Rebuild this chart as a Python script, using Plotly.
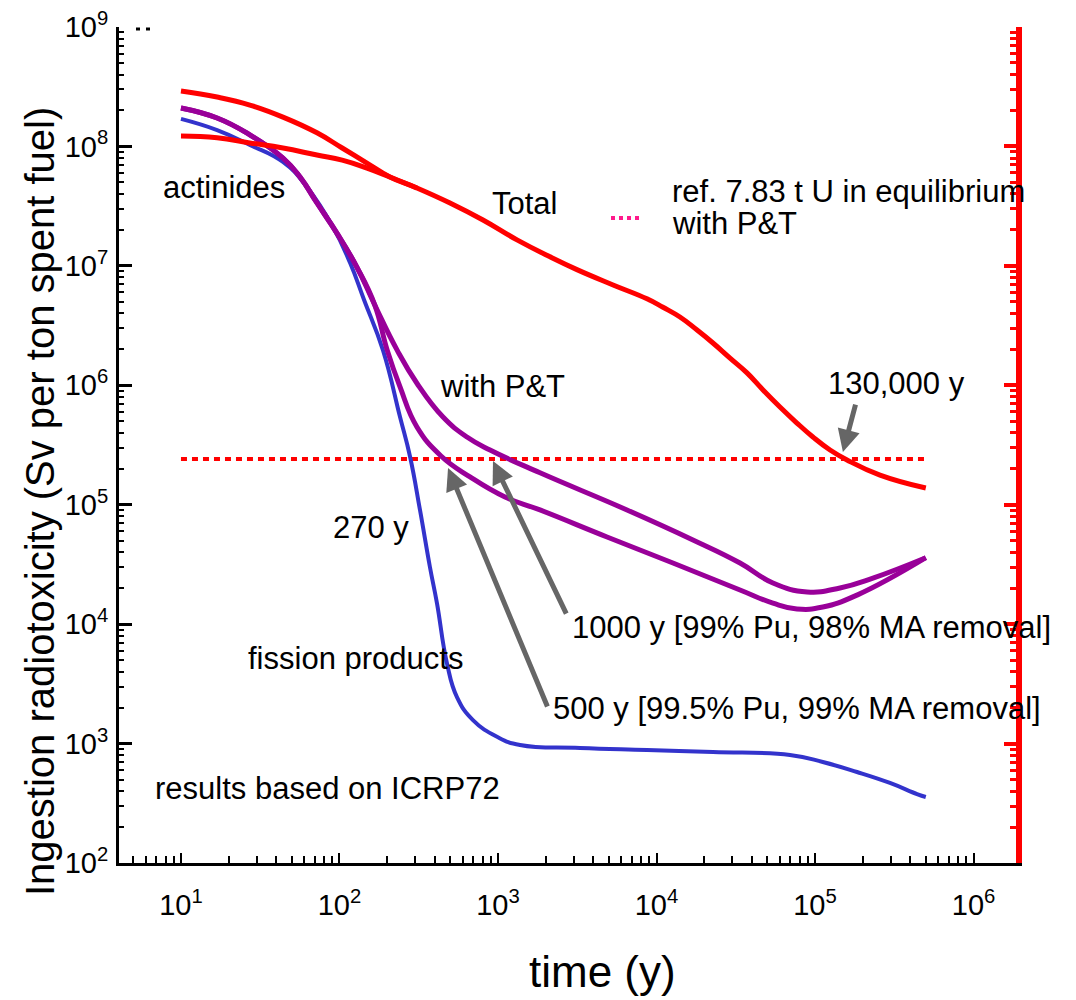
import plotly.graph_objects as go
import math

# ---------------- data (time in years, ingestion radiotoxicity in Sv / t spent fuel) -------------
total_t = [10, 16.9, 27.2, 44.0, 72.1, 104, 149, 208, 308, 498, 804, 1318, 2128, 3148,
           5321, 8710, 10990, 14060, 18030, 22700, 29100, 37240, 46990, 60100, 76900,
           97000, 124400, 159200, 257000, 500000]
total_v = [2.91e8, 2.59e8, 2.22e8, 1.76e8, 1.30e8, 9.70e7, 7.26e7, 5.55e7, 4.49e7, 3.36e7,
           2.42e7, 1.65e7, 1.19e7, 9.3e6, 6.92e6, 5.30e6, 4.50e6, 3.73e6, 2.90e6, 2.26e6,
           1.69e6, 1.27e6, 9.14e5, 6.58e5, 4.83e5, 3.69e5, 2.87e5, 2.37e5, 1.77e5, 1.38e5]

actinides_t = [10, 16.9, 27.2, 44.0, 72.1, 104, 149, 208, 308]
actinides_v = [1.22e8, 1.18e8, 1.07e8, 9.70e7, 8.47e7, 7.69e7, 6.59e7, 5.55e7, 4.49e7]

fp_t = [10, 16.9, 27.2, 44.0, 62.3, 91, 116.6, 143, 188, 241, 279, 322, 372, 412, 476,
        551, 695, 986, 1377, 3290, 8710, 22700, 69500, 112000, 184000, 297000, 440000,
        500000]
fp_v = [1.70e8, 1.37e8, 1.03e8, 7.41e7, 4.57e7, 2.11e7, 1.06e7, 5.18e6, 1.97e6, 5.42e5,
        2.51e5, 9.04e4, 3.01e4, 1.50e4, 4.73e3, 2.45e3, 1.57e3, 1.14e3, 973, 918, 883,
        849, 802, 701, 578, 468, 378, 357]

pt_common_t = [10, 16.9, 27.2, 44.0, 56.4, 72.1, 96.3, 128.7, 167]
pt_common_v = [2.10e8, 1.73e8, 1.25e8, 8.00e7, 5.55e7, 3.36e7, 1.88e7, 9.77e6, 4.70e6]

pt1000_t = [231, 308, 450, 637, 891, 1841, 6516, 16980, 33650, 54300, 89100, 143800,
            232000, 500000]
pt1000_v = [1.97e6, 1.04e6, 5.42e5, 3.69e5, 2.87e5, 1.85e5, 9.04e4, 5.07e4, 3.25e4,
            2.21e4, 1.86e4, 2.01e4, 2.43e4, 3.6e4]

pt500_t = [200, 241, 308, 437, 666, 1107, 1841, 4875, 12700, 33650, 54300, 76900,
           112000, 184000, 500000]
pt500_v = [1.97e6, 9.68e5, 4.48e5, 2.56e5, 1.71e5, 1.16e5, 9.04e4, 5.37e4, 3.25e4,
           1.93e4, 1.50e4, 1.34e4, 1.39e4, 1.75e4, 3.6e4]

ref_t = [10, 500000]
ref_v = [2.42e5, 2.42e5]

x_tickvals = [10, 100, 1000, 10000, 100000, 1000000]
x_ticktext = ["10<sup>1</sup>", "10<sup>2</sup>", "10<sup>3</sup>", "10<sup>4</sup>",
              "10<sup>5</sup>", "10<sup>6</sup>"]
y_tickvals = [1e2, 1e3, 1e4, 1e5, 1e6, 1e7, 1e8, 1e9]
y_ticktext = ["10<sup>%d</sup>" % k for k in range(2, 10)]

# arrows: (tip time, tip value, tail dx px, tail dy px)
arrow_130k = (1.5e5, 2.76e5, 13, -49)
arrow_1000 = (930, 2.32e5, 74, 154)
arrow_500 = (484, 2.03e5, 100, 240)

# ---------------- layout geometry (reference pixel frame) ----------------
OFF = 8                      # page body margin of the html page
W, H = 1076 - OFF, 1000 - OFF
L, R, T, B = 119, 1016, 27, 863
FONT = "Liberation Sans, Arial, Helvetica, sans-serif"


def px(x):
    return (x - L) / (R - L)


def py(y):
    return (B - y) / (B - T)


RED = "#ff0000"
BLUE = "#3333cc"
PURPLE = "#990099"
GRAY = "#666666"
SM = 1.3

fig = go.Figure()

fig.add_trace(go.Scatter(x=ref_t, y=ref_v, mode="lines",
                         line=dict(color=RED, width=4, dash="6px,5px"), showlegend=False))
fig.add_trace(go.Scatter(x=fp_t, y=fp_v, mode="lines", line_shape="spline",
                         line=dict(color=BLUE, width=4, smoothing=SM), showlegend=False))
fig.add_trace(go.Scatter(x=pt_common_t + pt1000_t, y=pt_common_v + pt1000_v, mode="lines",
                         line_shape="spline", line=dict(color=PURPLE, width=5, smoothing=SM),
                         showlegend=False))
fig.add_trace(go.Scatter(x=pt_common_t + pt500_t, y=pt_common_v + pt500_v, mode="lines",
                         line_shape="spline", line=dict(color=PURPLE, width=5, smoothing=SM),
                         showlegend=False))
fig.add_trace(go.Scatter(x=actinides_t, y=actinides_v, mode="lines", line_shape="spline",
                         line=dict(color=RED, width=5, smoothing=SM), showlegend=False))
fig.add_trace(go.Scatter(x=total_t, y=total_v, mode="lines", line_shape="spline",
                         line=dict(color=RED, width=5, smoothing=SM), showlegend=False))
fig.add_trace(go.Scatter(x=[None], y=[None], yaxis="y2", showlegend=False))

annotations = []


def label(text, x, y, size=31):
    annotations.append(dict(text=text, xref="paper", yref="paper", x=px(x), y=py(y),
                            xanchor="left", yanchor="middle", showarrow=False,
                            font=dict(size=size, color="black", family=FONT)))


label("actinides", 161, 187)
label("Total", 490, 203)
label("ref. 7.83 t U in equilibrium", 670, 191)
label("with P&T", 670, 223)
label("with P&T", 438, 386)
label("130,000 y", 826, 383)
label("270 y", 331, 527)
label("1000 y [99% Pu, 98% MA removal]", 570, 627)
label("fission products", 246, 658)
label("500 y [99.5% Pu, 99% MA removal]", 551, 708)
label("results based on ICRP72", 153, 788)

for (tt, vv, dx, dy) in (arrow_130k, arrow_1000, arrow_500):
    annotations.append(dict(text="", x=math.log10(tt), y=math.log10(vv), xref="x", yref="y",
                            ax=dx, ay=dy, showarrow=True, arrowhead=2, arrowsize=0.9,
                            arrowwidth=5, arrowcolor=GRAY, standoff=0, startstandoff=0))

# axis titles
annotations.append(dict(text="time (y)", xref="paper", yref="paper", x=px(602), y=py(972),
                        xanchor="center", yanchor="middle", showarrow=False,
                        font=dict(size=44, color="black", family=FONT)))
annotations.append(dict(text="Ingestion radiotoxicity (Sv per ton spent fuel)", xref="paper",
                        yref="paper", x=px(40), y=py(502), xanchor="center", yanchor="middle",
                        textangle=-90, showarrow=False,
                        font=dict(size=40, color="black", family=FONT)))

shapes = [
    # legend sample for the reference line
    dict(type="line", xref="paper", yref="paper", x0=px(611), x1=px(641), y0=py(218),
         y1=py(218), line=dict(color="#ff1a8c", width=4, dash="dot")),
    # small dotted fragment at top-left corner
    dict(type="line", xref="paper", yref="paper", x0=px(136), x1=px(152), y0=py(29),
         y1=py(29), line=dict(color="black", width=3, dash="4px,6px")),
]

fig.update_layout(
    width=W, height=H,
    margin=dict(l=L - OFF, r=W - (R - OFF), t=T - OFF, b=H - (B - OFF), pad=0,
                autoexpand=False),
    paper_bgcolor="white", plot_bgcolor="white",
    font=dict(family=FONT, color="black"),
    showlegend=False,
    annotations=annotations,
    shapes=shapes,
    xaxis=dict(type="log", range=[0.609, 6.268], showgrid=False, zeroline=False,
               automargin=False, ticklabeloverflow="allow",
               showline=True, linecolor="black", linewidth=3,
               ticks="inside", ticklen=10, tickwidth=2, tickcolor="black",
               tickvals=x_tickvals, ticktext=x_ticktext, tickfont=dict(size=29),
               ticklabelstandoff=14,
               minor=dict(ticks="inside", ticklen=7, tickwidth=2, tickcolor="black",
                          dtick="D1", showgrid=False)),
    yaxis=dict(type="log", range=[2, 9], showgrid=False, zeroline=False,
               automargin=False, ticklabeloverflow="allow",
               showline=True, linecolor="black", linewidth=3,
               ticks="inside", ticklen=13, tickwidth=3, tickcolor="black",
               tickvals=y_tickvals, ticktext=y_ticktext, tickfont=dict(size=29),
               ticklabelstandoff=2,
               minor=dict(ticks="inside", ticklen=5, tickwidth=2, tickcolor="black",
                          dtick="D1", showgrid=False)),
    yaxis2=dict(type="log", range=[2, 9], overlaying="y", side="right", showgrid=False,
                automargin=False,
                zeroline=False, showline=True, linecolor=RED, linewidth=6,
                ticks="inside", ticklen=12, tickwidth=4, tickcolor=RED,
                tickvals=y_tickvals, showticklabels=False,
                minor=dict(ticks="inside", ticklen=6, tickwidth=3, tickcolor=RED,
                           dtick="D1", showgrid=False)),
)

fig.write_html("out.html")
